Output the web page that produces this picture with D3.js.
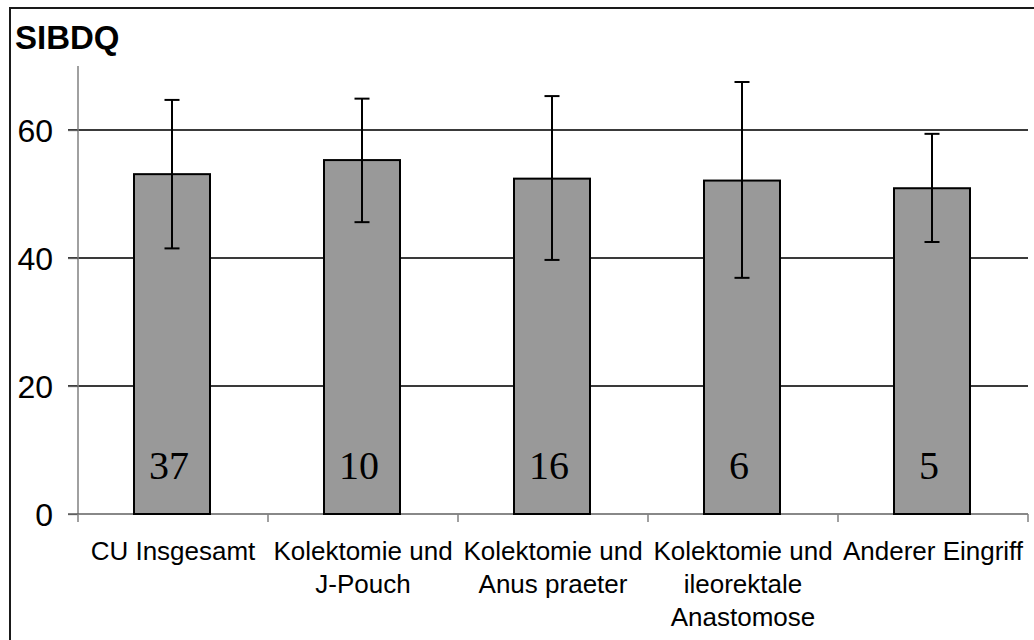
<!DOCTYPE html>
<html>
<head>
<meta charset="utf-8">
<script src="https://cdn.jsdelivr.net/npm/d3@7"></script>
<style>
  html, body { margin: 0; padding: 0; background: #fff; }
  svg { display: block; }
</style>
</head>
<body>
<svg id="chart" width="1034" height="640"></svg>
<script>
// SIBDQ scores by surgical group: mean, upper and lower error bounds, group size
const categories = [
  "CU Insgesamt",
  "Kolektomie und\nJ-Pouch",
  "Kolektomie und\nAnus praeter",
  "Kolektomie und\nileorektale\nAnastomose",
  "Anderer Eingriff"
];
const means = [53.1, 55.3, 52.4, 52.1, 50.9];
const errUpper = [64.7, 64.9, 65.3, 67.5, 59.4];
const errLower = [41.5, 45.6, 39.7, 36.9, 42.5];
const counts = ["37", "10", "16", "6", "5"];
const yTicks = [0, 20, 40, 60];
const yMax = 70;
const title = "SIBDQ";

const svg = d3.select("#chart");

// outer frame
svg.append("rect")
  .attr("x", 10).attr("y", 8)
  .attr("width", 1040).attr("height", 650)
  .attr("fill", "none").attr("stroke", "#1a1a1a").attr("stroke-width", 2);

const plot = { left: 78, right: 1028, top: 66, bottom: 514 };

const x = d3.scaleBand().domain(categories).range([plot.left, plot.right]).padding(0);
const y = d3.scaleLinear().domain([0, yMax]).range([plot.bottom, plot.top]);

// horizontal gridlines
svg.append("g")
  .selectAll("line")
  .data(yTicks.filter(d => d > 0))
  .join("line")
  .attr("x1", plot.left - 10).attr("x2", plot.right)
  .attr("y1", d => y(d)).attr("y2", d => y(d))
  .attr("stroke", "#3a3a3a").attr("stroke-width", 1.3)
  .attr("shape-rendering", "crispEdges");

// y axis
const yAxis = svg.append("g")
  .attr("transform", `translate(${plot.left},0)`)
  .call(d3.axisLeft(y).tickValues(yTicks).tickSize(10).tickSizeOuter(0).tickFormat(d3.format("d")));
yAxis.select(".domain").attr("stroke", "#808080").attr("stroke-width", 1.5)
  .attr("d", `M0,${plot.top}V${plot.bottom}`);
yAxis.selectAll(".tick line").attr("stroke", "#606060").attr("stroke-width", 1.3);
yAxis.selectAll(".tick text")
  .attr("font-family", "'Liberation Sans', Arial, sans-serif")
  .attr("font-size", 32).attr("fill", "#000")
  .attr("dy", "0.35em").attr("x", -25);

// x axis baseline and category separators
const xAxis = svg.append("g")
  .attr("transform", `translate(0,${plot.bottom})`);
xAxis.append("line")
  .attr("x1", plot.left - 10).attr("x2", plot.right)
  .attr("y1", 0).attr("y2", 0)
  .attr("stroke", "#606060").attr("stroke-width", 1.5);
const bounds = categories.map(c => x(c)).concat([x(categories[categories.length - 1]) + x.bandwidth()]);
xAxis.selectAll("line.sep")
  .data(bounds)
  .join("line").attr("class", "sep")
  .attr("x1", d => d).attr("x2", d => d)
  .attr("y1", 0).attr("y2", 8)
  .attr("stroke", "#808080").attr("stroke-width", 1.5);

// bars
const barW = x.bandwidth() * 0.4;
const cx = c => x(c) + x.bandwidth() / 2 - 1;
svg.append("g")
  .selectAll("rect")
  .data(categories)
  .join("rect")
  .attr("x", c => cx(c) - barW / 2)
  .attr("y", (c, i) => y(means[i]))
  .attr("width", barW)
  .attr("height", (c, i) => y(0) - y(means[i]))
  .attr("fill", "#999999")
  .attr("stroke", "#000").attr("stroke-width", 2);

// error bars
const capW = 15;
const err = svg.append("g").attr("stroke", "#000").attr("stroke-width", 2);
categories.forEach((c, i) => {
  const xc = cx(c);
  err.append("line").attr("x1", xc).attr("x2", xc)
    .attr("y1", y(errUpper[i])).attr("y2", y(errLower[i]));
  err.append("line").attr("x1", xc - capW / 2).attr("x2", xc + capW / 2)
    .attr("y1", y(errUpper[i])).attr("y2", y(errUpper[i]));
  err.append("line").attr("x1", xc - capW / 2).attr("x2", xc + capW / 2)
    .attr("y1", y(errLower[i])).attr("y2", y(errLower[i]));
});

// group sizes inside bars
svg.append("g")
  .selectAll("text")
  .data(categories)
  .join("text")
  .attr("x", c => cx(c) - 3)
  .attr("y", plot.bottom - 35)
  .attr("text-anchor", "middle")
  .attr("font-family", "'Liberation Serif', 'Times New Roman', serif")
  .attr("font-size", 40)
  .attr("fill", "#000")
  .text((c, i) => counts[i]);

// category labels (multi-line)
const labels = svg.append("g")
  .attr("font-family", "'Liberation Sans', Arial, sans-serif")
  .attr("font-size", 26)
  .attr("fill", "#000")
  .attr("text-anchor", "middle");
categories.forEach(c => {
  const t = labels.append("text").attr("x", x(c) + x.bandwidth() / 2);
  c.split("\n").forEach((line, k) => {
    t.append("tspan")
      .attr("x", x(c) + x.bandwidth() / 2)
      .attr("y", 560 + k * 33)
      .text(line);
  });
});

// chart title
svg.append("text")
  .attr("x", 15).attr("y", 49)
  .attr("font-family", "'Liberation Sans', Arial, sans-serif")
  .attr("font-weight", "bold")
  .attr("font-size", 33)
  .attr("fill", "#000")
  .text(title);
</script>
</body>
</html>
